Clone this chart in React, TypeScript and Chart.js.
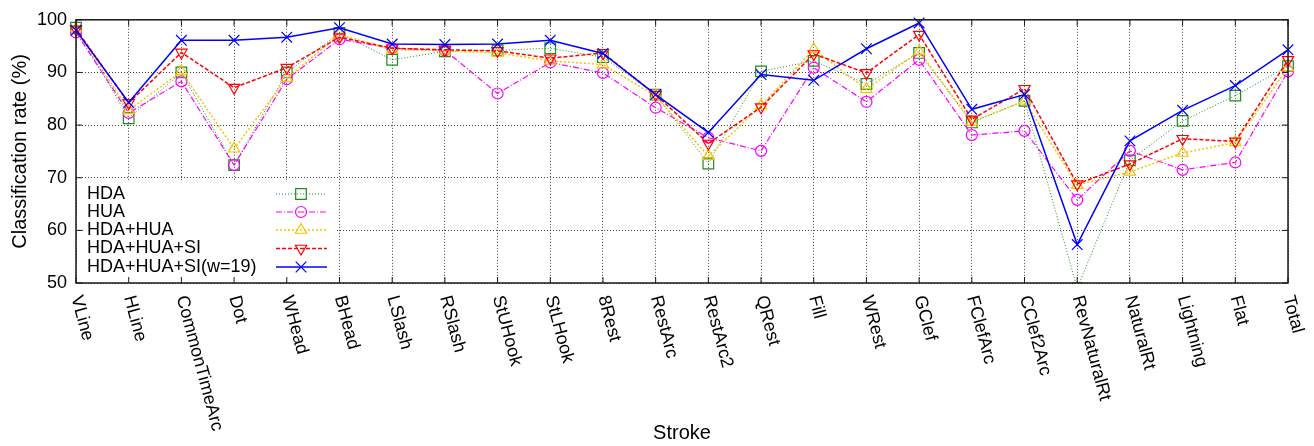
import React, { useEffect, useRef } from 'react';
import { Chart, registerables } from 'chart.js';

Chart.register(...registerables);

const categories = [
  'VLine', 'HLine', 'CommonTimeArc', 'Dot', 'WHead', 'BHead', 'LSlash', 'RSlash',
  'StUHook', 'StLHook', '8Rest', 'RestArc', 'RestArc2', 'QRest', 'Fill', 'WRest',
  'GClef', 'FClefArc', 'CClef2Arc', 'RevNaturalRt', 'NaturalRt', 'Lightning', 'Flat', 'Total',
];

const hda = [98.5, 81.3, 90.0, 72.4, 90.0, 97.5, 92.4, 94.0, 94.2, 94.6, 92.9, 85.8, 72.7, 90.2, 92.2, 87.8, 93.7, 80.5, 84.6, 49.0, 73.3, 80.8, 85.6, 91.2];
const hua = [97.6, 82.3, 88.3, 72.4, 88.7, 96.3, 94.6, 94.2, 86.0, 91.9, 89.9, 83.3, 77.6, 75.1, 90.9, 84.4, 92.4, 78.1, 78.9, 65.8, 75.1, 71.5, 72.9, 90.2];
const hdaHua = [98.3, 82.8, 90.2, 75.5, 88.9, 97.2, 94.3, 94.1, 93.7, 92.2, 91.5, 85.5, 74.1, 83.7, 94.4, 86.8, 94.0, 80.6, 84.6, 68.6, 71.1, 74.7, 76.7, 90.9];
const hdaHuaSi = [98.2, 84.2, 93.8, 87.1, 90.9, 96.7, 94.6, 94.3, 94.1, 92.7, 93.7, 85.8, 76.5, 83.4, 93.5, 89.9, 97.2, 81.1, 86.9, 68.8, 72.6, 77.4, 76.9, 92.4];
const hdaHuaSiW19 = [98.0, 84.3, 96.1, 96.1, 96.7, 98.5, 95.4, 95.3, 95.4, 96.1, 93.6, 85.8, 78.6, 89.6, 88.5, 94.5, 99.4, 83.0, 85.8, 57.3, 77.0, 82.8, 87.5, 94.3];

const seriesLabels = ['HDA', 'HUA', 'HDA+HUA', 'HDA+HUA+SI', 'HDA+HUA+SI(w=19)'];
const yTickValues = [50, 60, 70, 80, 90, 100];

const FONT = "'Liberation Sans', Arial, Helvetica, sans-serif";

type Style = {
  color: string;
  dash: number[];
  width: number;
  point: string;
  radius: number;
  rotation: number;
};

const styles: Style[] = [
  { color: '#1e8c1e', dash: [1, 2], width: 1, point: 'rect', radius: 7.5, rotation: 0 },
  { color: '#ff00ff', dash: [6, 2, 1, 2], width: 1.2, point: 'circle', radius: 5.5, rotation: 0 },
  { color: '#f5c400', dash: [2, 2], width: 1.5, point: 'triangle', radius: 6.5, rotation: 0 },
  { color: '#ff0000', dash: [4, 2], width: 1.5, point: 'triangle', radius: 6.5, rotation: 180 },
  { color: '#0000ff', dash: [], width: 1.5, point: 'crossRot', radius: 7.5, rotation: 0 },
];

function drawMarker(ctx: CanvasRenderingContext2D, s: Style, x: number, y: number) {
  ctx.save();
  ctx.setLineDash([]);
  ctx.strokeStyle = s.color;
  ctx.lineWidth = 1.2;
  ctx.beginPath();
  const r = s.radius;
  if (s.point === 'rect') {
    const h = r * Math.SQRT1_2;
    ctx.rect(x - h, y - h, 2 * h, 2 * h);
  } else if (s.point === 'circle') {
    ctx.arc(x, y, r, 0, Math.PI * 2);
  } else if (s.point === 'triangle') {
    const base = (s.rotation * Math.PI) / 180;
    for (let k = 0; k < 3; k++) {
      const a = base + (k * 2 * Math.PI) / 3;
      const px = x + Math.sin(a) * r;
      const py = y - Math.cos(a) * r;
      if (k === 0) ctx.moveTo(px, py);
      else ctx.lineTo(px, py);
    }
    ctx.closePath();
  } else {
    const d = r * Math.SQRT1_2;
    ctx.moveTo(x - d, y - d);
    ctx.lineTo(x + d, y + d);
    ctx.moveTo(x - d, y + d);
    ctx.lineTo(x + d, y - d);
  }
  ctx.stroke();
  ctx.restore();
}

const decorPlugin = {
  id: 'decor',
  beforeDatasetsDraw(chart: any) {
    const { ctx, chartArea: ca } = chart;
    // opaque key background
    ctx.save();
    ctx.fillStyle = '#ffffff';
    ctx.fillRect(84, 182, 336 - 84, ca.bottom - 182);
    ctx.restore();
  },
  afterDraw(chart: any) {
    const { ctx, chartArea: ca, scales } = chart;
    const xs = scales.x;
    const ys = scales.y;
    ctx.save();
    // inward ticks on all sides
    ctx.strokeStyle = '#1a1a1a';
    ctx.lineWidth = 1;
    ctx.setLineDash([]);
    ctx.beginPath();
    categories.forEach((_, i) => {
      const px = xs.getPixelForTick(i);
      ctx.moveTo(px, ca.bottom);
      ctx.lineTo(px, ca.bottom - 6);
      ctx.moveTo(px, ca.top);
      ctx.lineTo(px, ca.top + 6);
    });
    yTickValues.forEach((v) => {
      const py = ys.getPixelForValue(v);
      ctx.moveTo(ca.left, py);
      ctx.lineTo(ca.left + 6, py);
      ctx.moveTo(ca.right, py);
      ctx.lineTo(ca.right - 6, py);
    });
    ctx.stroke();
    // frame
    ctx.lineWidth = 1.5;
    ctx.strokeRect(ca.left, ca.top, ca.right - ca.left, ca.bottom - ca.top);

    // rotated category labels
    ctx.fillStyle = '#000';
    ctx.font = `18px ${FONT}`;
    ctx.textAlign = 'left';
    ctx.textBaseline = 'middle';
    categories.forEach((c, i) => {
      ctx.save();
      ctx.translate(xs.getPixelForTick(i), ca.bottom + 13);
      ctx.rotate((75 * Math.PI) / 180);
      ctx.fillText(c, 0, 0);
      ctx.restore();
    });

    // legend
    const rowsY = [194, 212, 230, 248.5, 267];
    seriesLabels.forEach((lab, i) => {
      const s = styles[i];
      const yy = rowsY[i];
      ctx.fillStyle = '#000';
      ctx.font = `18px ${FONT}`;
      ctx.textAlign = 'left';
      ctx.textBaseline = 'middle';
      ctx.fillText(lab, 87, yy);
      ctx.save();
      ctx.strokeStyle = s.color;
      ctx.lineWidth = s.width;
      ctx.setLineDash(s.dash);
      ctx.beginPath();
      ctx.moveTo(276, yy);
      ctx.lineTo(327, yy);
      ctx.stroke();
      ctx.restore();
      drawMarker(ctx, s, 301, yy);
    });
    ctx.restore();
  },
};

export default function App() {
  const ref = useRef<HTMLCanvasElement>(null);

  useEffect(() => {
    if (!ref.current) return;
    const values = [hda, hua, hdaHua, hdaHuaSi, hdaHuaSiW19];
    const datasets = values.map((data, i) => {
      const s = styles[i];
      return {
        label: seriesLabels[i],
        data,
        borderColor: s.color,
        backgroundColor: 'rgba(0,0,0,0)',
        borderWidth: s.width,
        borderDash: s.dash,
        pointStyle: s.point,
        pointRadius: s.radius,
        pointRotation: s.rotation,
        pointBorderColor: s.color,
        pointBackgroundColor: 'rgba(0,0,0,0)',
        pointBorderWidth: 1.2,
        tension: 0,
        fill: false,
        order: 4 - i,
        clip: { left: false, right: false, top: false, bottom: 0 },
      };
    });

    const chart = new Chart(ref.current, {
      type: 'line',
      data: { labels: categories, datasets: datasets as any },
      options: {
        animation: false,
        responsive: false,
        maintainAspectRatio: false,
        devicePixelRatio: 1,
        layout: { padding: { top: 18, right: 26, left: 0, bottom: 0 } },
        plugins: {
          legend: { display: false },
          tooltip: { enabled: false },
        },
        scales: {
          x: {
            type: 'category',
            offset: false,
            grid: { color: 'rgba(0,0,0,0.75)', lineWidth: 1, drawTicks: false },
            border: { display: false, dash: [1, 2] },
            ticks: { display: false },
            title: {
              display: true,
              text: 'Stroke',
              color: '#000',
              font: { family: FONT, size: 20 },
              padding: { top: 0, bottom: 1 },
            },
            afterFit: (scale: any) => {
              scale.height = 163;
            },
          },
          y: {
            min: 50,
            max: 100,
            grid: { color: 'rgba(0,0,0,0.75)', lineWidth: 1, drawTicks: false },
            border: { display: false, dash: [1, 2] },
            ticks: {
              stepSize: 10,
              color: '#000',
              padding: 9,
              font: { family: FONT, size: 18 },
            },
            title: {
              display: true,
              text: 'Classification rate (%)',
              color: '#000',
              font: { family: FONT, size: 20 },
              padding: { top: 8, bottom: 0 },
            },
            afterFit: (scale: any) => {
              scale.width = 76;
            },
          },
        },
      },
      plugins: [decorPlugin],
    });
    return () => chart.destroy();
  }, []);

  return (
    <div style={{ position: 'absolute', left: 0, top: 0, width: 1314, height: 446 }}>
      <canvas ref={ref} width={1314} height={446} style={{ display: 'block', width: 1314, height: 446 }} />
    </div>
  );
}
